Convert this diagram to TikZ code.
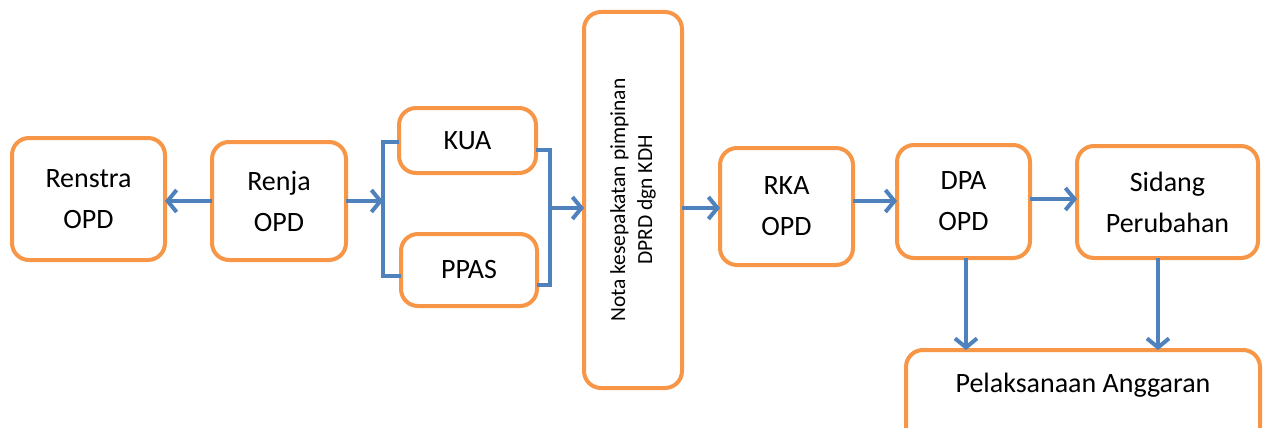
\documentclass[tikz,border=0pt]{standalone}
\usepackage{fontspec}
\setmainfont{Carlito}
\usetikzlibrary{arrows.meta}
\definecolor{bor}{HTML}{F79646}
\definecolor{blu}{HTML}{4F81BD}
\begin{document}
\begin{tikzpicture}[x=1pt,y=-1pt,
  box/.style={draw=bor,line width=4pt,rounded corners=17pt,fill=white,
    inner sep=0pt,outer sep=0pt,align=center,font=\fontsize{28}{41}\selectfont},
  conn/.style={draw=blu,line width=4pt},
  arr/.style={conn,-{Straight Barb[length=9pt,width=22pt,line width=4pt]}}]
\useasboundingbox (0,0) rectangle (1267,428);
\clip (0,0) rectangle (1267,428);
\node[box,minimum width=153pt,minimum height=122pt] (Renstra) at (88.5,199) {Renstra\\OPD};
\node[box,minimum width=134pt,minimum height=118pt] (Renja) at (279,201) {Renja\\OPD};
\node[box,minimum width=137pt,minimum height=65pt] (KUA) at (467.5,140.5) {KUA};
\node[box,minimum width=136pt,minimum height=72pt] (PPAS) at (469,270) {PPAS};
\node[box,minimum width=98pt,minimum height=376pt] (Nota) at (633,200) {};
\node[rotate=90,align=center,font=\fontsize{21.5}{27}\selectfont] (NotaT) at (Nota.center) {Nota kesepakatan pimpinan\\DPRD dgn KDH};
\node[box,minimum width=133pt,minimum height=117pt] (RKA) at (786.5,206.5) {RKA\\OPD};
\node[box,minimum width=133pt,minimum height=113pt] (DPA) at (963.5,201.5) {DPA\\OPD};
\node[box,minimum width=181pt,minimum height=112pt] (Sidang) at (1167.5,202) {Sidang\\Perubahan};
\node[box,minimum width=354pt,minimum height=96pt,text depth=0pt] (Pel) at (1083,398) {};
\node[font=\fontsize{28}{34}\selectfont] (PelT) at (1083,385) {Pelaksanaan Anggaran};
% connectors
\draw[arr] (Renja.west) -- (Renstra.east |- Renja.west);
\coordinate (bt) at (383,142);
\coordinate (bb) at (383,276);
\coordinate (bm) at (383,201);
\draw[arr] (Renja.east) -- (bm);
\draw[conn] (KUA.west |- bt) -- (bt) -- (bb) -- (PPAS.west |- bb);
\coordinate (ct) at (550,150);
\coordinate (cb) at (550,285);
\coordinate (cm) at (550,208);
\draw[conn] (KUA.east |- ct) -- (ct) -- (cb) -- (PPAS.east |- cb);
\draw[arr] (cm) -- (Nota.west |- cm);
\coordinate (nr) at (682,208);
\draw[arr] (Nota.east |- nr) -- (RKA.west |- nr);
\coordinate (rd) at (853,201);
\draw[arr] (RKA.east |- rd) -- (DPA.west |- rd);
\coordinate (ds) at (1030,199);
\draw[arr] (DPA.east |- ds) -- (Sidang.west |- ds);
\coordinate (dp) at (966,258);
\draw[arr] (dp) -- (dp |- Pel.north);
\coordinate (sp) at (1158,258);
\draw[arr] (sp) -- (sp |- Pel.north);
\end{tikzpicture}
\end{document}
